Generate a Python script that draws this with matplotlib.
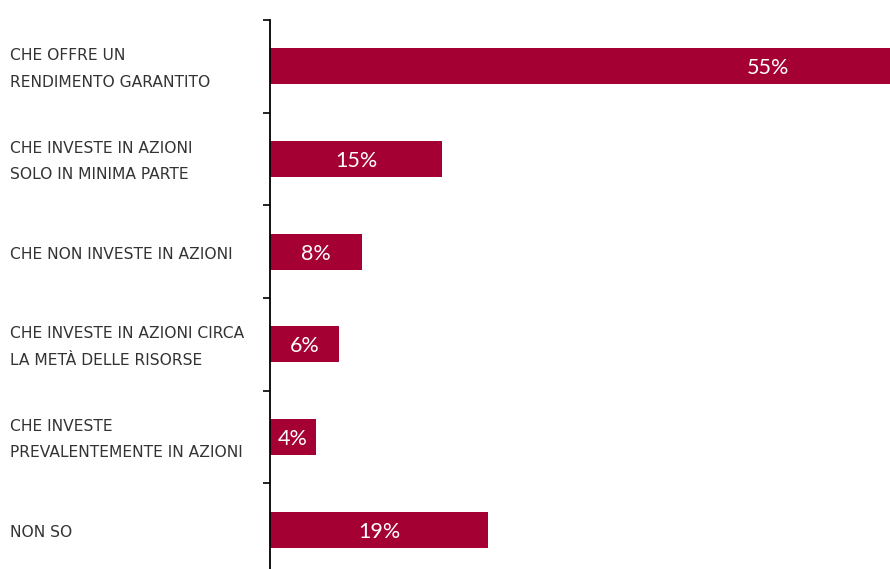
import matplotlib
matplotlib.use('Agg')
import matplotlib.pyplot as plt
import matplotlib.transforms as mtransforms

# risposte e percentuali
risposte = [
    'CHE OFFRE UN\nRENDIMENTO GARANTITO',
    'CHE INVESTE IN AZIONI\nSOLO IN MINIMA PARTE',
    'CHE NON INVESTE IN AZIONI',
    'CHE INVESTE IN AZIONI CIRCA\nLA METÀ DELLE RISORSE',
    'CHE INVESTE\nPREVALENTEMENTE IN AZIONI',
    'NON SO',
]
percentuali = [55, 15, 8, 6, 4, 19]

rosso = '#A50034'
plt.rcParams['font.family'] = ['Lato', 'DejaVu Sans']

fig = plt.figure(figsize=(8.9, 5.69), dpi=100)
ax = fig.add_axes([270/890, 1 - 576/569, 620/890, 556/569])

pos = range(len(percentuali))
ax.barh(pos, percentuali, height=0.39, color=rosso)
ax.set_xlim(0, 54.05)
ax.set_ylim(len(percentuali) - 0.5, -0.5)

# solo l'asse verticale, con le tacche tra le categorie
for s in ['top', 'right', 'bottom']:
    ax.spines[s].set_visible(False)
ax.spines['left'].set_linewidth(1.3)
ax.set_xticks([])
ax.set_yticks([])
ax.set_yticks([i - 0.5 for i in pos], minor=True)
ax.tick_params(axis='y', which='minor', length=5, width=1.2, direction='out')
ax.set_yticklabels([], minor=True)

# etichette a sinistra
trans = mtransforms.blended_transform_factory(fig.transFigure, ax.transData)
for i, r in enumerate(risposte):
    ax.text(10/890, i + 0.03, r, transform=trans, ha='left', va='center',
            fontsize=11.2, family='DejaVu Sans', color='#333333',
            linespacing=1.95)

# valori dentro le barre
xmax = ax.get_xlim()[1]
for i, v in enumerate(percentuali):
    x = v / 2 if v < xmax else v * 0.79
    ax.text(x, i + 0.02, f'{v}%', ha='center', va='center', color='white',
            fontsize=15.5)

fig.savefig('out.png', dpi=100)
